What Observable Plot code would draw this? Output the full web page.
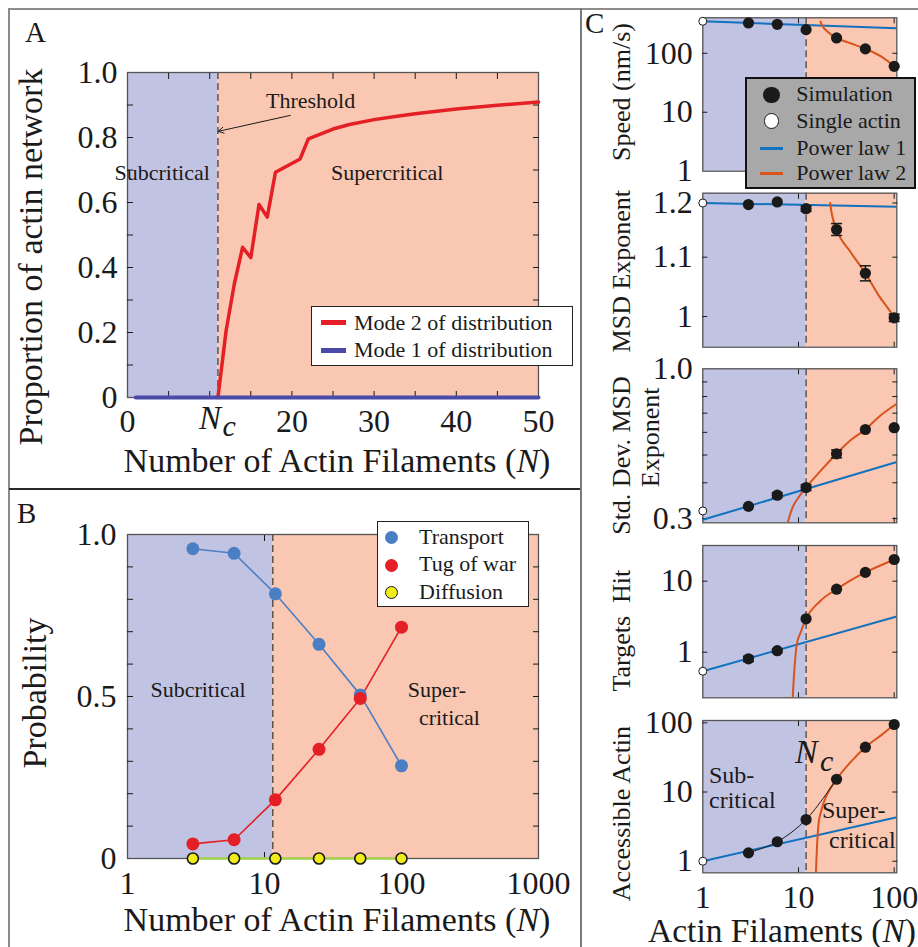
<!DOCTYPE html>
<html><head><meta charset="utf-8">
<script src="https://cdn.jsdelivr.net/npm/d3@7"></script>
<script src="https://cdn.jsdelivr.net/npm/@observablehq/plot@0.6"></script>
<style>
html,body{margin:0;padding:0;background:#fff;}
#fig{position:relative;width:918px;height:947px;overflow:hidden;font-family:"Liberation Serif","Times New Roman",serif;color:#1a1a1a;}
.t{position:absolute;line-height:1;white-space:nowrap;}
.b{position:absolute;box-sizing:border-box;}
</style></head><body><div id="fig"></div>
<script>
// ---------------- DATA ----------------
// Panel A: proportion of actin network vs number of filaments
const ncA = 11;
const modeN = [11, 12, 13, 14, 15, 16, 17, 18, 21, 22, 23, 24, 25, 27, 30, 33, 35, 40, 45, 50];
const mode2 = [0, 0.206, 0.35, 0.462, 0.43, 0.594, 0.555, 0.693, 0.734, 0.796, 0.806, 0.816, 0.826, 0.840, 0.855, 0.866, 0.873, 0.888, 0.899, 0.909];
const mode1N = [1, 10, 20, 30, 40, 50];
const mode1 = [0, 0, 0, 0, 0, 0];
const labelsA_x = [0, 20, 30, 40, 50];
const labelsA_y = [0, 0.2, 0.4, 0.6, 0.8, 1.0];
const minorA_x = [5, 10, 15, 20, 25, 30, 35, 40, 45];
const minorA_y = [0.1, 0.2, 0.3, 0.4, 0.5, 0.6, 0.7, 0.8, 0.9];
const arrowA = [{x1: 19.8, y1: 0.868, x2: 11.05, y2: 0.819}];

// Panel B: probabilities of motion modes
const ncB = 11.5;
const nB = [3, 6, 12, 25, 50, 100];
const transport = [0.956, 0.942, 0.817, 0.661, 0.505, 0.286];
const tugOfWar = [0.045, 0.058, 0.181, 0.337, 0.494, 0.714];
const diffusion = [0, 0, 0, 0, 0, 0];
const labelsB_x = [1, 10, 100, 1000];
const labelsB_y = [0, 0.5, 1.0];
const minorB_x = [10, 100];
const minorB_y = [0.1, 0.2, 0.3, 0.4, 0.5, 0.6, 0.7, 0.8, 0.9];

// Panel C: five sub-panels, shared N axis
const ncC = 12;
const nSim = [3, 6, 12, 25, 50, 100];
const nSingle = 1;
const law1N = [1, 106.5];
const labelsC_x = [1, 10, 100];
const minorC_x = [10, 100];

const speedSim = [327, 310, 252, 182, 119, 60];
const speedSingle = 349;
const speedLaw1 = [349, 265];
const speedLaw2N = [17, 17.4, 18.2, 20, 25, 35, 50, 75, 100, 106.5];
const speedLaw2 = [345, 310, 276, 235, 182, 148, 119, 86, 60, 55];

const msdSim = [1.197, 1.202, 1.189, 1.150, 1.072, 0.998];
const msdErr = [0, 0, 0.005, 0.011, 0.013, 0.006];
const msdSingle = 1.2;
const msdLaw1 = [1.2, 1.193];
const msdLaw2N = [21.4, 22.3, 25, 34.7, 50, 68.5, 100, 106.5];
const msdLaw2 = [1.2, 1.179, 1.150, 1.110, 1.072, 1.035, 0.998, 0.99];

const stdSim = [0.331, 0.362, 0.385, 0.505, 0.614, 0.623];
const stdErr = [0, 0.007, 0.009, 0.016, 0, 0];
const stdSingle = 0.319;
const stdLaw1 = [0.297, 0.473];
const stdLaw2N = [7.7, 8.7, 9.8, 12, 17, 25, 34.7, 50, 68.5, 106.5];
const stdLaw2 = [0.29, 0.329, 0.352, 0.385, 0.44, 0.505, 0.562, 0.614, 0.678, 0.755];

const hitsSim = [0.807, 1.05, 2.95, 7.71, 13.3, 20.2];
const hitsErr = [0.07, 0.06, 0, 0, 0, 0];
const hitsSingle = 0.54;
const hitsLaw1 = [0.54, 3.18];
const hitsLaw2N = [8.7, 8.9, 9.2, 9.6, 10.4, 12, 16.8, 25, 34.7, 50, 100, 106.5];
const hitsLaw2 = [0.228, 0.4, 0.75, 1.3, 1.82, 2.95, 5.23, 7.71, 10.2, 13.3, 20.2, 21];

const accSim = [1.32, 1.91, 4.0, 15.3, 44.4, 94.5];
const accSingle = 1.0;
const accLaw1 = [1.0, 4.32];
const accLaw2N = [15.2, 15.6, 16.2, 17.2, 18.2, 20.5, 25, 35, 50, 75, 100, 106.5];
const accLaw2 = [0.68, 1.59, 3.47, 5.2, 6.8, 10, 15.3, 27, 44.4, 68, 94.5, 101];

// ---------------- STYLE HELPERS ----------------
const SERIF = "'Liberation Serif','Times New Roman',Times,serif";
const INK = "#1a1a1a";
const LAV = "#c1c3e3", SAL = "#f9c7b2";
const BLUE_C = "#1272bd", ORANGE_C = "#d9531a";
const RED = "#e41f26", BLUE_A = "#4a4aa8", BLUE_B = "#4b7fc3", YEL = "#f3ec1c", GREEN = "#a2d24c";
const fig = document.getElementById("fig");
const baseStyle = {fontFamily: SERIF, background: "transparent", overflow: "visible", color: INK};

function addPlot(p, left, top) {
  p.style.position = "absolute"; p.style.left = left + "px"; p.style.top = top + "px";
  fig.appendChild(p);
}
function txt(str, x, baseline, size, {anchor = "start", italic = false, html = false} = {}) {
  const d = document.createElement("div"); d.className = "t";
  if (html) d.innerHTML = str; else d.textContent = str;
  d.style.fontSize = size + "px"; d.style.left = x + "px";
  d.style.top = (baseline - 0.8375 * size) + "px";
  if (italic) d.style.fontStyle = "italic";
  d.style.transform = `translateX(${anchor === "middle" ? "-50%" : anchor === "end" ? "-100%" : "0"})`;
  fig.appendChild(d); return d;
}
function rectDiv(left, top, w, h, css) {
  const d = document.createElement("div"); d.className = "b";
  Object.assign(d.style, {left: left + "px", top: top + "px", width: w + "px", height: h + "px"}, css);
  fig.appendChild(d); return d;
}
function swLine(cx, cy, w, th, color) { rectDiv(cx - w / 2, cy - th / 2, w, th, {background: color}); }
function swDot(cx, cy, r, fill, stroke, sw) {
  rectDiv(cx - r, cy - r, 2 * r, 2 * r, {background: fill, borderRadius: "50%", border: stroke ? `${sw}px solid ${stroke}` : "none"});
}
function inX(ticks, len = 6) {
  return [
    Plot.axisX({anchor: "bottom", ticks, tickSize: len, dy: -len, tickFormat: () => "", label: null}),
    Plot.axisX({anchor: "top", ticks, tickSize: len, dy: len, tickFormat: () => "", label: null})
  ];
}
function inY(ticks, len = 6) {
  return [
    Plot.axisY({anchor: "left", ticks, tickSize: len, dx: len, tickFormat: () => "", label: null}),
    Plot.axisY({anchor: "right", ticks, tickSize: len, dx: -len, tickFormat: () => "", label: null})
  ];
}
function labX(ticks, fmt, pad, size = 32) {
  return Plot.axisX({anchor: "bottom", ticks, tickSize: 0, tickPadding: pad, tickFormat: fmt, fontSize: size, label: null});
}
function labY(ticks, fmt, pad, size = 32) {
  return Plot.axisY({anchor: "left", ticks, tickSize: 0, tickPadding: pad, tickFormat: fmt, fontSize: size, label: null});
}
function yTitle(str, dx, dy, size) {
  return Plot.text([str], {frameAnchor: "left", text: d => d, rotate: -90, dx, dy, fontSize: size,
    textAnchor: "middle", lineAnchor: "middle", fill: INK});
}
const capSymbol = {draw(ctx, size) { const w = Math.sqrt(size / Math.PI); ctx.moveTo(-w, 0); ctx.lineTo(w, 0); }};
const dash = {stroke: "#333", strokeWidth: 1.2, strokeDasharray: "7,4"};
const frame = Plot.frame({stroke: "#555", strokeWidth: 1.3});

// ---------------- BORDERS ----------------
rectDiv(8, 8, 910, 2, {background: "#8c8c8c"});
rectDiv(8, 8, 2, 939, {background: "#8c8c8c"});
rectDiv(9, 488, 572, 1.6, {background: "#2a2a2a"});
rectDiv(580, 8, 2, 939, {background: "#7a7a7a"});

// ---------------- PANEL A ----------------
const regionsA = [{from: 0, to: ncA, shade: LAV}, {from: ncA, to: 50, shade: SAL}];
const dfA2 = modeN.map((n, i) => ({n, p: mode2[i]}));
const dfA1 = mode1N.map((n, i) => ({n, p: mode1[i]}));
addPlot(Plot.plot({
  width: 572, height: 480, marginLeft: 118, marginRight: 43, marginTop: 63, marginBottom: 92,
  style: baseStyle, color: {type: "identity"},
  x: {domain: [0, 50]}, y: {domain: [0, 1]},
  marks: [
    Plot.rect(regionsA, {x1: "from", x2: "to", fill: "shade"}),
    Plot.ruleX([ncA], dash),
    frame,
    ...inX(minorA_x), ...inY(minorA_y),
    labX(labelsA_x, d => String(d), 12),
    labY(labelsA_y, d => d === 0 ? "0" : d.toFixed(1), 10),
    Plot.line(dfA2, {x: "n", y: "p", stroke: RED, strokeWidth: 3.5}),
    Plot.line(dfA1, {x: "n", y: "p", stroke: BLUE_A, strokeWidth: 4}),
    Plot.arrow(arrowA, {x1: "x1", y1: "y1", x2: "x2", y2: "y2", stroke: INK, strokeWidth: 1, headLength: 9}),
    yTitle("Proportion of actin network", -96, 22, 34)
  ]
}), 9, 9);

txt("A", 25, 42.5, 29);
txt("Subcritical", 114.5, 180, 22);
txt("Supercritical", 331, 180, 22);
txt("Threshold", 266, 108.3, 22);
txt("N", 199, 430, 33, {italic: true});
txt("c", 222.5, 436, 30, {italic: true});
txt("Number of Actin Filaments (<i>N</i>)", 337, 472, 34, {anchor: "middle", html: true});
// legend A
rectDiv(311, 305.7, 262, 60, {background: "#fff", border: "1.5px solid #222"});
swLine(333.4, 322.7, 25, 4.5, RED);
swLine(333.4, 350.7, 25, 4.5, BLUE_A);
txt("Mode 2 of distribution", 354, 330, 22);
txt("Mode 1 of distribution", 354, 357.3, 22);

// ---------------- PANEL B ----------------
const regionsB = [{from: 1, to: ncB, shade: LAV}, {from: ncB, to: 1000, shade: SAL}];
const dfB = nB.map((n, i) => ({n, transport: transport[i], tug: tugOfWar[i], diff: diffusion[i]}));
addPlot(Plot.plot({
  width: 572, height: 458, marginLeft: 118, marginRight: 43, marginTop: 45, marginBottom: 89,
  style: baseStyle, color: {type: "identity"},
  x: {type: "log", domain: [1, 1000]}, y: {domain: [0, 1]},
  marks: [
    Plot.rect(regionsB, {x1: "from", x2: "to", fill: "shade"}),
    Plot.ruleX([ncB], dash),
    frame,
    ...inX(minorB_x), ...inY(minorB_y),
    labX(labelsB_x, d => String(d), 13),
    labY(labelsB_y, d => d === 0 ? "0" : d.toFixed(1), 11),
    Plot.line(dfB, {x: "n", y: "transport", stroke: BLUE_B, strokeWidth: 1.6}),
    Plot.line(dfB, {x: "n", y: "tug", stroke: RED, strokeWidth: 1.6}),
    Plot.line(dfB, {x: "n", y: "diff", stroke: GREEN, strokeWidth: 2.5}),
    Plot.dot(dfB, {x: "n", y: "transport", r: 6.5, fill: BLUE_B}),
    Plot.dot(dfB, {x: "n", y: "tug", r: 6.5, fill: RED}),
    Plot.dot(dfB, {x: "n", y: "diff", r: 5.5, fill: YEL, stroke: INK, strokeWidth: 1.6}),
    yTitle("Probability", -92, -3.5, 34)
  ]
}), 9, 489);

txt("B", 17, 523, 29);
txt("Subcritical", 150.4, 697.3, 22);
txt("Super-", 407.8, 697.3, 22);
txt("critical", 418.9, 725, 22);
txt("Number of Actin Filaments (<i>N</i>)", 337, 931.7, 34, {anchor: "middle", html: true});
// legend B
rectDiv(376.7, 521, 152.6, 85.7, {background: "#fff", border: "1.5px solid #222"});
swDot(391.5, 537.7, 6.8, BLUE_B);
swDot(391.5, 565.3, 6.8, RED);
swDot(391.5, 592.7, 6.6, YEL, INK, 1.6);
txt("Transport", 419, 544.3, 22);
txt("Tug of war", 419, 571.7, 22);
txt("Diffusion", 419, 599.3, 22);

// ---------------- PANEL C ----------------
const regionsC = [{from: 1, to: ncC, shade: LAV}, {from: ncC, to: 106.5, shade: SAL}];
function panelC(cfg) {
  const sim = nSim.map((n, i) => ({n, v: cfg.sim[i], e: cfg.err ? cfg.err[i] : 0}));
  const errs = sim.filter(d => d.e > 0);
  const l1 = law1N.map((n, i) => ({n, v: cfg.law1[i]}));
  const l2 = cfg.law2N.map((n, i) => ({n, v: cfg.law2[i]}));
  const marks = [
    Plot.rect(regionsC, {x1: "from", x2: "to", fill: "shade"}),
    Plot.ruleX([ncC], dash),
    frame,
    ...inX(minorC_x, 5), ...inY(cfg.minorY, 5),
    labY(cfg.labelsY, cfg.fmt, 10),
    Plot.line(l1, {x: "n", y: "v", stroke: BLUE_C, strokeWidth: 2, clip: true}),
    Plot.line(l2, {x: "n", y: "v", stroke: ORANGE_C, strokeWidth: 2, curve: "monotone-x", clip: true}),
  ];
  if (cfg.thin) marks.push(Plot.line(sim.slice(0, 4), {x: "n", y: "v", stroke: INK, strokeWidth: 1, curve: "catmull-rom"}));
  marks.push(
    Plot.ruleX(errs, {x: "n", y1: d => d.v - d.e, y2: d => d.v + d.e, stroke: INK, strokeWidth: 1.5}),
    Plot.dot(errs, {x: "n", y: d => d.v + d.e, symbol: capSymbol, r: 5.5, stroke: INK, strokeWidth: 1.5}),
    Plot.dot(errs, {x: "n", y: d => d.v - d.e, symbol: capSymbol, r: 5.5, stroke: INK, strokeWidth: 1.5}),
    Plot.dot(sim, {x: "n", y: "v", r: 5.6, fill: INK}),
    Plot.dot([{n: nSingle, v: cfg.single}], {x: "n", y: "v", r: 4, fill: "#fff", stroke: INK, strokeWidth: 1}),
    ...cfg.titles.map(t => yTitle(t.s, t.dx, t.dy, 26))
  );
  if (cfg.xLabels) marks.push(labX(labelsC_x, d => String(d), 12));
  return Plot.plot({
    width: 337, height: cfg.h, marginLeft: 121.3, marginRight: 21.7, marginTop: cfg.mt, marginBottom: cfg.mb,
    style: baseStyle, color: {type: "identity"},
    x: {type: "log", domain: [1, 106.5]}, y: {type: "log", domain: cfg.domain},
    marks
  });
}
const fmtPlain = d => String(d);
addPlot(panelC({h: 177, mt: 11.3, mb: 11.7, domain: [0.29, 1.0], sim: stdSim, err: stdErr, single: stdSingle,
  law1: stdLaw1, law2N: stdLaw2N, law2: stdLaw2, labelsY: [0.3, 1.0], fmt: d => d.toFixed(1),
  minorY: [0.3, 0.4, 0.5, 0.6, 0.7, 0.8, 0.9],
  titles: [{s: "Std. Dev. MSD", dx: -81, dy: 9.7}, {s: "Exponent", dx: -52, dy: -8.5}]}), 581, 357);
addPlot(panelC({h: 175, mt: 11, mb: 11.7, domain: [0.228, 31.8], sim: hitsSim, err: hitsErr, single: hitsSingle,
  law1: hitsLaw1, law2N: hitsLaw2N, law2: hitsLaw2, labelsY: [1, 10], fmt: fmtPlain, minorY: [1, 10],
  titles: [{s: "Targets\u2002Hit", dx: -81, dy: 9}]}), 581, 534);
addPlot(panelC({h: 238, mt: 11, mb: 74.7, domain: [0.68, 108], sim: accSim, single: accSingle,
  law1: accLaw1, law2N: accLaw2N, law2: accLaw2, labelsY: [1, 10, 100], fmt: fmtPlain, minorY: [1, 10, 100],
  thin: true, xLabels: true,
  titles: [{s: "Accessible Actin", dx: -81, dy: 17}]}), 581, 709);
addPlot(panelC({h: 176, mt: 11.7, mb: 10.3, domain: [0.952, 1.219], sim: msdSim, err: msdErr, single: msdSingle,
  law1: msdLaw1, law2N: msdLaw2N, law2: msdLaw2, labelsY: [1, 1.1, 1.2], fmt: d => d === 1 ? "1" : d.toFixed(1),
  minorY: [1, 1.1, 1.2],
  titles: [{s: "MSD Exponent", dx: -81, dy: 1}]}), 581, 181);
addPlot(panelC({h: 172, mt: 8.3, mb: 10.3, domain: [1, 400], sim: speedSim, single: speedSingle,
  law1: speedLaw1, law2N: speedLaw2N, law2: speedLaw2, labelsY: [1, 10, 100], fmt: fmtPlain, minorY: [10, 100],
  titles: [{s: "Speed (nm/s)", dx: -81, dy: -2.5}]}), 581, 9);

txt("C", 585, 33, 29);
txt("Sub-", 709, 783.3, 24);
txt("critical", 709, 808.3, 24);
txt("Super-", 822, 818.3, 24);
txt("critical", 829, 848.3, 24);
txt("N", 795, 763.3, 34, {italic: true});
txt("c", 820, 771, 30, {italic: true});
txt("Actin Filaments (<i>N</i>)", 782, 941.7, 33.5, {anchor: "middle", html: true});
// legend C
rectDiv(745.3, 77.3, 171, 112, {background: "#a8a8a8", border: "2px solid #111"});
swDot(771.3, 95, 8.3, INK);
swDot(771.3, 121, 7.6, "#fff", INK, 1.5);
swLine(771.3, 148.3, 23.3, 3, BLUE_C);
swLine(771.3, 173.3, 23.3, 3, ORANGE_C);
txt("Simulation", 796.3, 101.7, 22);
txt("Single actin", 796.3, 128.3, 22);
txt("Power law 1", 796.3, 155, 22);
txt("Power law 2", 796.3, 180, 22);
</script></body></html>
